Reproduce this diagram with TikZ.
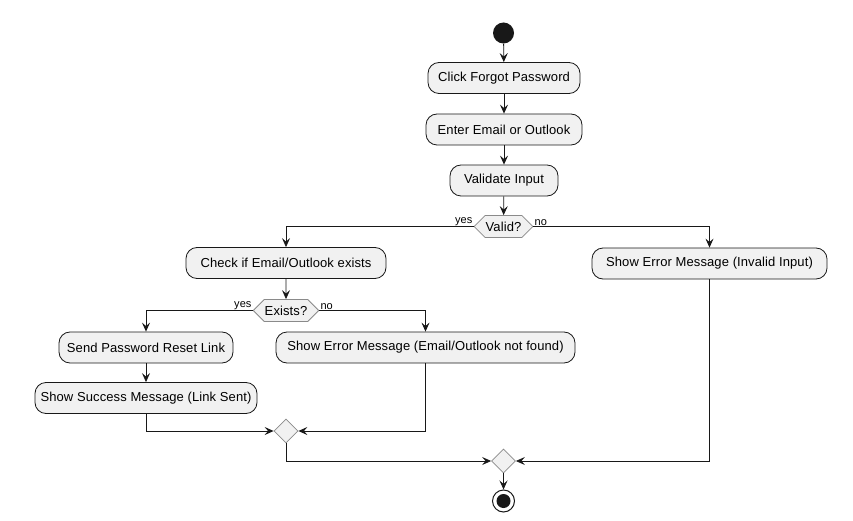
\documentclass[tikz,border=0pt]{standalone}
\usepackage{fontspec}
\setmainfont[LetterSpace=0.8]{Liberation Sans}
\usetikzlibrary{arrows.meta,shapes.geometric,shapes.symbols,calc}
\definecolor{linec}{HTML}{181818}
\definecolor{fillc}{HTML}{F1F1F1}
\definecolor{decb}{HTML}{8A8A8A}
\begin{document}
\begin{tikzpicture}[x=1pt,y=-1pt,
  every node/.style={font=\fontsize{13}{15}\selectfont},
  actbox/.style={draw=linec,fill=fillc,rounded corners=11pt,line width=0.8pt,
    minimum height=31pt,inner xsep=3pt,inner ysep=0pt,text=black},
  hexa/.style={draw=decb,fill=fillc,signal,signal to=east and west,signal pointer angle=90,
    minimum height=22pt,inner xsep=0.5pt,inner ysep=0pt,line width=0.8pt},
  merge/.style={draw=decb,fill=fillc,diamond,minimum size=24pt,inner sep=0pt,line width=0.8pt},
  flow/.style={draw=linec,line width=0.8pt,-{Stealth[length=9pt,width=8pt,inset=3.5pt]}},
  lbl/.style={font=\fontsize{11}{13}\selectfont,inner xsep=1pt,inner ysep=0.5pt},
]
\useasboundingbox (0,0) rectangle (853,521);
\fill[white] (0,0) rectangle (853,521);

\node[circle,fill=linec,minimum size=21pt,inner sep=0pt] (start) at (503.5,33) {};
\node[actbox,minimum width=152pt] (click) at (504,78) {Click Forgot Password};
\node[actbox,minimum width=156pt] (enter) at (504,129.5) {Enter Email or Outlook};
\node[actbox,minimum width=108pt] (validate) at (504,180.5) {Validate Input};
\node[hexa] (valid) at (503.5,226.5) {Valid?};
\node[actbox,minimum width=200pt] (check) at (286,263) {Check if Email/Outlook exists};
\node[actbox,minimum width=235pt] (errinv) at (709.5,263.5) {Show Error Message (Invalid Input)};
\node[hexa] (exists) at (286,310.5) {Exists?};
\node[actbox,minimum width=174pt] (send) at (146,347.5) {Send Password Reset Link};
\node[actbox,minimum width=299pt] (errnf) at (425.5,347.5) {Show Error Message (Email/Outlook not found)};
\node[actbox,minimum width=222pt] (success) at (146,398) {Show Success Message (Link Sent)};
\node[merge] (m1) at (286,431) {};
\node[merge] (m2) at (503.5,461) {};
\node[circle,draw=linec,line width=1pt,fill=white,minimum size=22pt,inner sep=0pt] (end) at (503.5,501) {};
\fill[linec] (end.center) circle (7pt);

\draw[flow] (start) -- (click);
\draw[flow] (click) -- (enter);
\draw[flow] (enter) -- (validate);
\draw[flow] (validate) -- (valid);
\draw[flow] (valid.west) -| (check.north);
\draw[flow] (valid.east) -| (errinv.north);
\node[lbl,anchor=south east] (vyes) at (valid.west) {yes};
\node[lbl,anchor=south west] (vno) at (valid.east) {no};
\draw[flow] (check) -- (exists);
\draw[flow] (exists.west) -| (send.north);
\draw[flow] (exists.east) -| (errnf.north);
\node[lbl,anchor=south east] (eyes) at (exists.west) {yes};
\node[lbl,anchor=south west] (eno) at (exists.east) {no};
\draw[flow] (send) -- (success);
\draw[flow] (success.south) |- (m1.west);
\draw[flow] (errnf.south) |- (m1.east);
\draw[flow] (m1.south) |- (m2.west);
\draw[flow] (errinv.south) |- (m2.east);
\draw[flow] (m2) -- (end);
\end{tikzpicture}
\end{document}
